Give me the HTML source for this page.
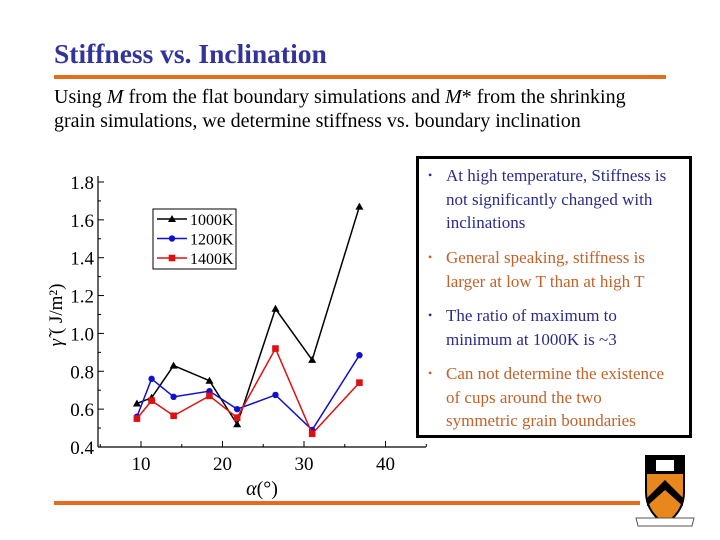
<!DOCTYPE html>
<html><head><meta charset="utf-8"><style>
body{margin:0;width:720px;height:540px;background:#fff;overflow:hidden;position:relative;font-family:"Liberation Serif",serif}
.t{position:absolute;left:54px;top:38px;font-size:27.5px;font-weight:bold;color:#33339c;margin:0}
.rule{position:absolute;background:#e46c1a;height:4px}
.sub{position:absolute;left:54px;top:85px;font-size:20px;line-height:24px;color:#000;white-space:nowrap}
.box{position:absolute;left:416px;top:156px;width:270px;height:276px;border:3px solid #000;background:#fff}
.box ul{margin:0;padding:0;list-style:none}
.box li{position:absolute;left:27px;font-size:17px;line-height:23.5px;white-space:nowrap}
.box li:before{content:"•";position:absolute;left:-18px;font-size:12px}
.b{color:#2b2b8c}.o{color:#c0622a}
</style></head><body>
<h1 class="t">Stiffness vs. Inclination</h1>
<div class="rule" style="left:54px;top:75px;width:612px"></div>
<div class="sub">Using <i>M</i> from the flat boundary simulations and <i>M</i>* from the shrinking<br>grain simulations, we determine stiffness vs. boundary inclination</div>
<svg id="chart" width="720" height="540" style="position:absolute;left:0;top:0"></svg>
<div class="box"><ul>
<li class="b" style="top:5px">At high temperature, Stiffness is<br>not significantly changed with<br>inclinations</li>
<li class="o" style="top:87px">General speaking, stiffness is<br>larger at low T than at high T</li>
<li class="b" style="top:145px">The ratio of maximum to<br>minimum at 1000K is ~3</li>
<li class="o" style="top:203px">Can not determine the existence<br>of cups around the two<br>symmetric grain boundaries</li>
</ul></div>
<div class="rule" style="left:54px;top:501px;width:586px"></div>
<svg width="62" height="78" viewBox="0 0 62 78" style="position:absolute;left:634px;top:452px">
<path d="M12 4 L50 4 L50 40 Q50 60 31 72 Q12 60 12 40 Z" fill="#e8881c" stroke="#000" stroke-width="2"/>
<path d="M12 4 L50 4 L50 22 L12 22 Z" fill="#000"/>
<rect x="22" y="8" width="18" height="11" fill="#fff"/>
<path d="M13 46 L31 28 L49 46 L49 54 L31 38 L13 54 Z" fill="#000"/>
<path d="M2 66 L60 66 L58 74 L4 74 Z" fill="#fff" stroke="#555" stroke-width="1"/>
</svg>
<script>
const xs=[9.5,11.3,14,18.4,21.8,26.5,31,36.8];
const s1000=[0.63,0.66,0.83,0.75,0.52,1.13,0.86,1.67];
const s1200=[0.56,0.76,0.665,0.695,0.60,0.675,0.49,0.885];
const s1400=[0.55,0.645,0.565,0.67,0.555,0.92,0.47,0.74];
const yTicks=[0.4,0.6,0.8,1.0,1.2,1.4,1.6,1.8];
const xTicks=[10,20,30,40];
const svg=document.getElementById('chart');
const NS='http://www.w3.org/2000/svg';
const X=v=>59.5+v*8.15, Y=v=>447-(v-0.4)*189.3;
function mk(t,a,p){const e=document.createElementNS(NS,t);for(const k in a)e.setAttribute(k,a[k]);(p||svg).appendChild(e);return e;}
let ax=mk('line',{x1:98,y1:447,x2:426,y2:447,stroke:'#000','stroke-width':1.2});


let ay=mk('line',{x1:98,y1:447,x2:98,y2:176,stroke:'#000','stroke-width':1.2});


yTicks.forEach(v=>{mk('line',{x1:98,y1:Y(v),x2:104,y2:Y(v),stroke:'#000'});
 if(v<1.8)mk('line',{x1:98,y1:Y(v+0.1),x2:101,y2:Y(v+0.1),stroke:'#000'});
 const t=mk('text',{x:94,y:Y(v)+7,'text-anchor':'end','font-size':19,'font-family':'Liberation Serif, serif'});t.textContent=v.toFixed(1);
 
 });
xTicks.forEach(v=>{mk('line',{x1:X(v),y1:447,x2:X(v),y2:441,stroke:'#000'});mk('line',{x1:X(v+5),y1:447,x2:X(v+5),y2:444,stroke:'#000'});
 const t=mk('text',{x:X(v),y:470,'text-anchor':'middle','font-size':19,'font-family':'Liberation Serif, serif'});t.textContent=v;
 
 });
mk('line',{x1:X(5),y1:447,x2:X(5),y2:444,stroke:'#000'});
let xt=mk('text',{x:262,y:495,'text-anchor':'middle','font-size':20,'font-family':'Liberation Serif, serif'});
xt.innerHTML='<tspan font-style="italic">α</tspan>(°)';


let yt=mk('text',{transform:'translate(62,315) rotate(-90)','text-anchor':'middle','font-size':19,'font-family':'Liberation Serif, serif'});
yt.innerHTML='<tspan font-style="italic">γ̃</tspan> ( J/m²)';


function marker(g,type,cx,cy,c){
 if(type==='tri')mk('path',{d:`M${cx} ${cy-4} L${cx+4} ${cy+3} L${cx-4} ${cy+3}Z`,fill:c},g);
 else if(type==='circ')mk('circle',{cx,cy,r:3.2,fill:c},g);
 else mk('rect',{x:cx-3.3,y:cy-3.3,width:6.6,height:6.6,fill:c},g);}
function series(vals,c,type,name){
 const g=mk('g',{});
 
 
 mk('polyline',{points:vals.map((v,i)=>X(xs[i])+','+Y(v)).join(' '),fill:'none',stroke:c,'stroke-width':1.5},g);
 vals.forEach((v,i)=>marker(g,type,X(xs[i]),Y(v),c));}
series(s1000,'#000','tri','series-1000k');
series(s1200,'#1010d0','circ','series-1200k');
series(s1400,'#e01010','sq','series-1400k');
const lg=mk('g',{});


mk('rect',{x:153,y:209,width:83,height:60,fill:'#fff',stroke:'#000','stroke-width':1},lg);
[['1000K','#000','tri'],['1200K','#1010d0','circ'],['1400K','#e01010','sq']].forEach((e,i)=>{
 const y=219+i*19.5;
 mk('line',{x1:157,y1:y,x2:187,y2:y,stroke:e[1],'stroke-width':1.5},lg);
 marker(lg,e[2],172,y,e[1]);
 const t=mk('text',{x:190,y:y+6,'font-size':16,'font-family':'Liberation Serif, serif'},lg);t.textContent=e[0];
 
 });
</script>
</body></html>
